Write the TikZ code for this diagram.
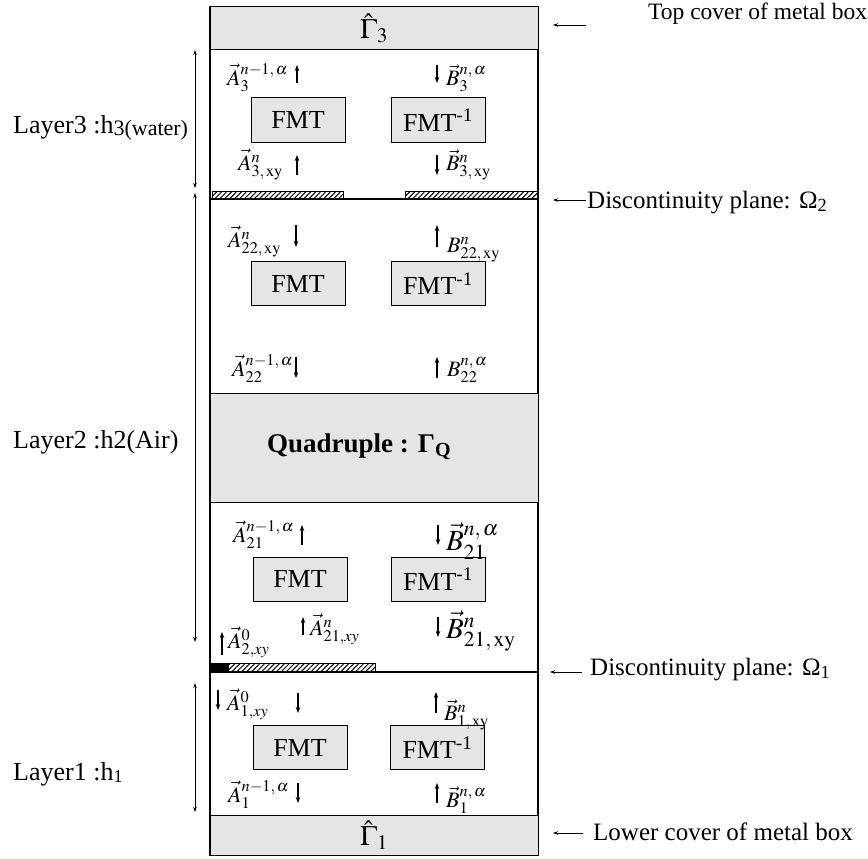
\documentclass[tikz,border=0pt]{standalone}
\usepackage{mathptmx}
\usepackage{fontspec}
\setmainfont{Liberation Serif}
\usetikzlibrary{patterns.meta,arrows.meta}

\tikzset{
	cover/.style={draw, line width=1pt, fill=black!10, minimum width=328pt, inner sep=0pt},
	fmtbox/.style={draw, line width=1pt, fill=black!10, minimum width=94pt, minimum height=44pt, inner sep=0pt, font=\fontsize{26}{30}\selectfont},
	lbl/.style={inner sep=0pt, anchor=base west},
	biglbl/.style={lbl, font=\fontsize{29}{34}\selectfont},
	vflow/.style={-{Stealth[length=6pt,width=4.5pt]}, line width=1.1pt},
	hatch/.style={draw, line width=0.8pt, pattern={Lines[angle=45,distance=3.5pt,line width=1pt]}},
	note/.style={anchor=base west, inner sep=0pt, font=\fontsize{25}{29}\selectfont},
	layernote/.style={note, font=\fontsize{26}{30}\selectfont},
	span/.style={{Stealth[length=5pt,width=3.5pt]}-{Stealth[length=5pt,width=3.5pt]}, line width=0.7pt},
	ptr/.style={-{Stealth[length=5pt,width=3.5pt]}, line width=0.7pt}
}

\begin{document}
\begin{tikzpicture}[x=1pt,y=-1pt,font=\fontsize{22}{26}\selectfont]
	\useasboundingbox (0,0) rectangle (868,859);

	% metal box and covers
	\node[draw, line width=1.2pt, minimum width=328pt, minimum height=848pt] (metalbox) at (374,431) {};
	\node[cover, minimum height=43pt, font=\fontsize{28}{30}\selectfont] (topcover) at (374,28.5) {$\hat{\Gamma}_3$};
	\node[cover, minimum height=109pt] (quad) at (374,447.5) {};
	\node[lbl, font=\bfseries\fontsize{27}{30}\selectfont] (quadtext) at (267,452) {Quadruple : Γ\textsubscript{Q}};
	\node[cover, minimum height=40pt, font=\fontsize{28}{30}\selectfont] (lowcover) at (374,835) {$\hat{\Gamma}_1$};

	% discontinuity planes
	\draw[hatch] (212,191) rectangle (343,198);
	\draw[hatch] (405,191) rectangle (537,198);
	\draw[line width=1.2pt] (210,199) -- (538,199);
	\fill (211,663) rectangle (228,671);
	\draw[hatch] (228,663) rectangle (375,671);
	\draw[line width=1.2pt] (210,672) -- (538,672);

	% layer 3
	\node[fmtbox] (fmt3) at (298,120) {FMT};
	\node[fmtbox] (ifmt3) at (438,120) {FMT\textsuperscript{-1}};
	\node[lbl] (a3top) at (227,85) {$\vec{A}_3^{n-1,\,\alpha}$};
	\node[lbl] (b3top) at (446,85) {$\vec{B}_3^{n,\,\alpha}$};
	\node[lbl] (a3bot) at (238,170) {$\vec{A}_{3,\,\mathrm{xy}}^{n}$};
	\node[lbl] (b3bot) at (446,170) {$\vec{B}_{3,\,\mathrm{xy}}^{n}$};
	\draw[vflow] (297,83) -- (297,65);
	\draw[vflow] (437,65) -- (437,83);
	\draw[vflow] (297,175) -- (297,155);
	\draw[vflow] (437,155) -- (437,175);

	% layer 2, upper part
	\node[fmtbox] (fmt22) at (298,283.5) {FMT};
	\node[fmtbox] (ifmt22) at (438,283.5) {FMT\textsuperscript{-1}};
	\node[lbl] (a22top) at (228,247) {$\vec{A}_{22,\,\mathrm{xy}}^{n}$};
	\node[lbl] (b22top) at (447,252) {$B_{22,\,\mathrm{xy}}^{n}$};
	\node[lbl] (a22bot) at (232,376) {$\vec{A}_{22}^{n-1,\,\alpha}$};
	\node[lbl] (b22bot) at (447,376) {$B_{22}^{n,\,\alpha}$};
	\draw[vflow] (296,225) -- (296,247);
	\draw[vflow] (437,247) -- (437,225);
	\draw[vflow] (296,357) -- (296,378);
	\draw[vflow] (437,378) -- (437,357);

	% layer 2, lower part
	\node[fmtbox] (fmt21) at (300,579) {FMT};
	\node[fmtbox] (ifmt21) at (438,579) {FMT\textsuperscript{-1}};
	\node[lbl] (a21top) at (233,542) {$\vec{A}_{21}^{n-1,\,\alpha}$};
	\node[biglbl] (b21top) at (446,550) {$\vec{B}_{21}^{n,\,\alpha}$};
	\node[lbl] (a2zero) at (228,648) {$\vec{A}_{2,xy}^{0}$};
	\node[lbl] (a21bot) at (310,635) {$\vec{A}_{21,xy}^{n}$};
	\node[biglbl] (b21bot) at (446,638) {$\vec{B}_{21,\,\mathrm{xy}}^{n}$};
	\draw[vflow] (302,545) -- (302,525);
	\draw[vflow] (438,525) -- (438,545);
	\draw[vflow] (222,655) -- (222,632);
	\draw[vflow] (303,635) -- (303,617);
	\draw[vflow] (438,617) -- (438,637);

	% layer 1
	\node[fmtbox] (fmt1) at (300,747.5) {FMT};
	\node[fmtbox] (ifmt1) at (437.5,747.5) {FMT\textsuperscript{-1}};
	\node[lbl] (a1zero) at (227,710) {$\vec{A}_{1,xy}^{0}$};
	\node[lbl] (b1top) at (444,720) {$\vec{B}_{1,\,\mathrm{xy}}^{n}$};
	\node[lbl] (a1bot) at (228,802) {$\vec{A}_{1}^{n-1,\,\alpha}$};
	\node[lbl] (b1bot) at (446,807) {$\vec{B}_{1}^{n,\,\alpha}$};
	\draw[vflow] (218,690) -- (218,710);
	\draw[vflow] (298,693) -- (298,713);
	\draw[vflow] (436,713) -- (436,692);
	\draw[vflow] (298,783) -- (298,803);
	\draw[vflow] (437,803) -- (437,783);

	% layer heights
	\coordinate (h3top) at (195,50);
	\coordinate (h3bot) at (195,188);
	\coordinate (h2top) at (195,193);
	\coordinate (h2bot) at (195,642);
	\coordinate (h1top) at (195,683);
	\coordinate (h1bot) at (195,812);
	\draw[span] (h3top) -- (h3bot);
	\draw[span] (h2top) -- (h2bot);
	\draw[span] (h1top) -- (h1bot);
	\node[layernote] (layer3) at (13,133) {Layer3 :h{\fontsize{22}{22}\selectfont\raisebox{-2pt}{3(water)}}};
	\node[layernote] (layer2) at (13,448) {Layer2 :h2(Air)};
	\node[layernote] (layer1) at (13,780) {Layer1 :h{\fontsize{18}{18}\selectfont\raisebox{-2pt}{1}}};

	% notes on the right
	\node[note, font=\fontsize{23.5}{27}\selectfont] (topnote) at (648,20) {Top cover of metal box};
	\node[note] (disc2note) at (587,208) {Discontinuity plane: Ω\textsubscript{2}};
	\node[note] (disc1note) at (590,675) {Discontinuity plane: Ω\textsubscript{1}};
	\node[note] (lownote) at (593,840) {Lower cover of metal box};
	\coordinate (toptail) at (586,25);
	\coordinate (toptip) at (553,25);
	\coordinate (disc2tail) at (586,200);
	\coordinate (disc2tip) at (553,200);
	\coordinate (disc1tail) at (582,672);
	\coordinate (disc1tip) at (550,672);
	\coordinate (lowtail) at (583,833);
	\coordinate (lowtip) at (553,833);
	\draw[ptr] (toptail) -- (toptip);
	\draw[ptr] (disc2tail) -- (disc2tip);
	\draw[ptr] (disc1tail) -- (disc1tip);
	\draw[ptr] (lowtail) -- (lowtip);
\end{tikzpicture}
\end{document}
